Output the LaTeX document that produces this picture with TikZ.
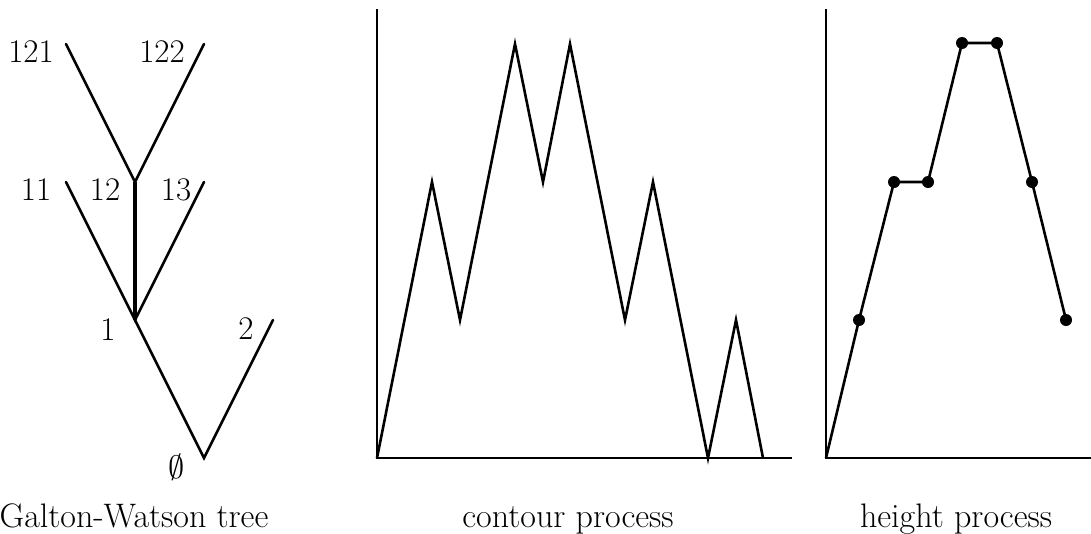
\documentclass[tikz,border=0pt]{standalone}
\begin{document}
\begin{tikzpicture}[x=1pt,y=-1pt,
  edge/.style={line width=2.6pt,line cap=round,line join=miter},
  thickedge/.style={line width=4.5pt},
  axis/.style={line width=2.8pt},
  lab/.style={inner sep=0pt,font=\fontsize{33}{40}\selectfont},
  captext/.style={inner sep=0pt,anchor=base,font=\fontsize{34}{41}\selectfont},
  dot/.style={circle,fill=black,inner sep=0pt,minimum size=12pt}]
\useasboundingbox (0,0) rectangle (1091,533);
% ---------- tree ----------
\coordinate (root) at (204,458);
\coordinate (n1) at (135,320);
\coordinate (n2) at (273,320);
\coordinate (n11) at (66,182);
\coordinate (n12) at (135,182);
\coordinate (n13) at (204,182);
\coordinate (n121) at (66,44);
\coordinate (n122) at (204,44);
\draw[edge] (n1) -- (root) -- (n2);
\draw[edge] (n11) -- (n1) -- (n13);
\draw[edge,thickedge,line cap=butt] (n1) -- (n12);
\draw[edge] (n121) -- (n12) -- (n122);
\node[lab] (l121) at (31,52) {121};
\node[lab] (l122) at (162,52) {122};
\node[lab] (l11) at (36,190) {11};
\node[lab] (l12) at (105,190) {12};
\node[lab] (l13) at (176,190) {13};
\node[lab] (l1) at (108,330) {1};
\node[lab] (l2) at (246,329) {2};
\node[lab] (lroot) at (177,467) {\scalebox{1.3}{$\emptyset$}};
\node[captext] (capA) at (134,527) {Galton-Watson tree};
% ---------- contour process ----------
\coordinate (cO) at (377,458);
\coordinate (cTop) at (377,9);
\coordinate (cEnd) at (792,458);
\draw[axis] (cTop) -- (cO) -- (cEnd);
\coordinate (c1) at (432,182);
\coordinate (c2) at (460,320);
\coordinate (c3) at (515,44);
\coordinate (c4) at (543,182);
\coordinate (c5) at (570,44);
\coordinate (c6) at (625,320);
\coordinate (c7) at (653,182);
\coordinate (c8) at (708,458);
\coordinate (c9) at (736,320);
\coordinate (c10) at (763,458);
\draw[edge,line cap=butt] (cO) -- (c1) -- (c2) -- (c3) -- (c4) -- (c5) -- (c6) -- (c7) -- (c8) -- (c9) -- (c10);
\node[captext] (capB) at (568,527) {contour process};
% ---------- height process ----------
\coordinate (hO) at (826,458);
\coordinate (hTop) at (826,9);
\coordinate (hEnd) at (1091,458);
\draw[axis] (hTop) -- (hO) -- (hEnd);
\node[dot] (h1) at (859,320) {};
\node[dot] (h2) at (894,182) {};
\node[dot] (h3) at (928,182) {};
\node[dot] (h4) at (962,43) {};
\node[dot] (h5) at (997,43) {};
\node[dot] (h6) at (1032,182) {};
\node[dot] (h7) at (1066,320) {};
\draw[edge,line cap=butt] (hO) -- (h1.center) -- (h2.center) -- (h3.center) -- (h4.center) -- (h5.center) -- (h6.center) -- (h7.center);
\node[captext] (capC) at (956,527) {height process};
\end{tikzpicture}
\end{document}
